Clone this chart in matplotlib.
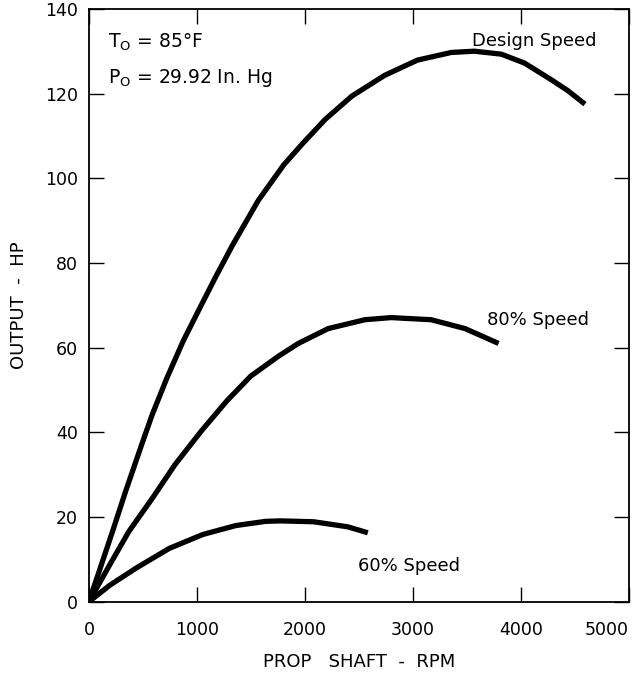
import numpy as np
import matplotlib.pyplot as plt

# -----------------------
# Datos
# -----------------------
rpm_design = [0, 99, 224, 339, 490, 588, 722, 874, 1028, 1172, 1326, 1570, 1806, 1980, 2189,
              2436, 2740, 3044, 3357, 3570, 3820, 4035, 4287, 4436, 4595]
hp_design = [0, 7.5, 17.0, 26.0, 37.2, 44.3, 52.8, 61.6, 69.4, 76.6, 84.0, 94.8, 103.2, 108.2, 113.9,
             119.4, 124.3, 127.9, 129.7, 130.0, 129.3, 127.2, 123.2, 120.7, 117.5]

rpm_80 = [0, 190, 370, 589, 798, 1044, 1280, 1500, 1757, 1940, 2216, 2557, 2800, 3170, 3485, 3795]
hp_80 = [0, 8.6, 16.6, 24.5, 32.4, 40.4, 47.5, 53.3, 58.0, 61.0, 64.5, 66.6, 67.1, 66.6, 64.5, 61.0]

rpm_60 = [0, 193, 440, 744, 1056, 1361, 1638, 1777, 2082, 2398, 2584]
hp_60 = [0, 3.9, 8.0, 12.6, 15.9, 18.0, 19.0, 19.1, 18.9, 17.7, 16.3]

curvas = [(rpm_design, hp_design), (rpm_80, hp_80), (rpm_60, hp_60)]
etiquetas = ['Design Speed', '80% Speed', '60% Speed']
pos_etiquetas = [(3550, 132.5), (3690, 66.5), (2490, 8.5)]

x_ticks = [0, 1000, 2000, 3000, 4000, 5000]
y_ticks = [0, 20, 40, 60, 80, 100, 120, 140]

# -----------------------
# Figura
# -----------------------
fig = plt.figure(figsize=(6.35, 6.8), dpi=100)
ax = fig.add_axes([0.14, 0.115, 0.85, 0.872])

for x, y in curvas:
    ax.plot(x, y, color='black', linewidth=3.8, solid_capstyle='butt', solid_joinstyle='round')

for txt, (tx, ty) in zip(etiquetas, pos_etiquetas):
    ax.text(tx, ty, txt, fontsize=13, ha='left', va='center')

ax.text(0.035, 0.943, r'T$_{\mathregular{O}}$ = 85°F', transform=ax.transAxes, fontsize=13.5, va='center')
ax.text(0.035, 0.883, r'P$_{\mathregular{O}}$ = 29.92 In. Hg', transform=ax.transAxes, fontsize=13.5, va='center')

ax.set_xlim(0, 5000)
ax.set_ylim(0, 140)
ax.set_xticks(x_ticks)
ax.set_yticks(y_ticks)
ax.tick_params(direction='in', top=True, right=True, length=11, width=1.0, labelsize=12.5)
ax.tick_params(axis='x', pad=14)
ax.tick_params(axis='y', pad=8)
ax.get_xticklabels()[-1].set_horizontalalignment('right')
for s in ax.spines.values():
    s.set_linewidth(1.3)

ax.set_xlabel('PROP   SHAFT  -  RPM', fontsize=13, labelpad=10)
ax.set_ylabel('OUTPUT  -  HP', fontsize=13, labelpad=12)

plt.savefig('out.png', dpi=100)
